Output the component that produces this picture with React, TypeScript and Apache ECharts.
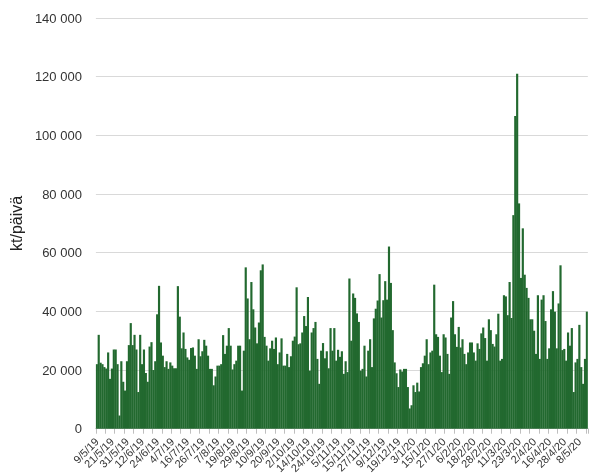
import React, { useEffect, useRef } from "react";
import * as echarts from "echarts";

// Daily volumes, kt/päivä (business days from 9/5/2019)
const volMayJun19 = [22000, 32000, 22500, 22000, 21000, 20500, 26000, 17000, 20500, 27000, 27000, 22000, 4500, 23000, 16000, 13000, 23000, 28500, 36000, 28500, 32000, 27000, 12500, 32000, 22000, 27000, 19000, 16000, 28000, 29500, 20000, 23000, 39000];
const volJulAug19 = [48700, 29400, 24900, 21000, 23000, 20400, 22600, 21500, 20600, 20600, 48600, 38200, 27400, 32800, 27200, 24300, 23500, 27500, 27700, 24900, 20400, 30500, 24700, 26400, 30300, 28300, 24900, 20400, 20400, 14800, 17800, 21500];
const volAugSep19 = [21500, 22000, 31900, 25500, 28300, 34300, 28300, 20200, 22000, 23200, 28300, 28300, 13000, 26600, 55000, 44400, 30500, 50000, 40700, 34500, 29100, 36200, 54000, 56000, 31300, 28300, 23200, 27400, 30000, 27200, 31100, 22000, 26000];
const volOctNov19 = [30800, 21500, 21500, 25500, 21000, 24700, 30000, 31400, 48200, 28800, 29100, 32800, 38400, 35000, 44900, 19800, 32800, 34300, 36400, 23800, 15300, 26600, 29200, 24000, 26400, 20600, 34300, 26600, 34300, 23200, 26900, 24500];
const volNovDec19 = [26400, 18700, 23000, 19300, 51200, 30000, 46100, 44600, 39300, 36400, 19800, 20400, 28300, 17800, 26600, 30500, 21000, 37600, 40900, 43700, 52700, 37900, 43800, 50300, 44000, 62100, 49700, 33600, 22600, 18900, 14200, 20200, 19500, 20400];
const volJanFeb20 = [20400, 14200, 6900, 8000, 14800, 12500, 15700, 12700, 21000, 22300, 24900, 30500, 22000, 26000, 26600, 49100, 32200, 31300, 24900, 19300, 32200, 31100, 25500, 18700, 37900, 43500, 32200, 27900, 34700, 27700, 30500, 25500, 22000];
const volFebMar20 = [26000, 29400, 29400, 26000, 23200, 29100, 27200, 32500, 34500, 30900, 23200, 37300, 33600, 28900, 28000, 32200, 39200, 23200, 23800, 45500, 45100, 38700, 50000, 37700, 72800, 106600, 121000, 76800, 51400, 68300, 52500, 48000];
const volAprMay20 = [44600, 37300, 37300, 33400, 25500, 45500, 23800, 44000, 45500, 36700, 23800, 27400, 40700, 46900, 39900, 27400, 42700, 55700, 26800, 27200, 23200, 32800, 28300, 34300, 12500, 22600, 23800, 35400, 21000, 15300, 23800, 39900];

const values = [
  ...volMayJun19, ...volJulAug19, ...volAugSep19, ...volOctNov19,
  ...volNovDec19, ...volJanFeb20, ...volFebMar20, ...volAprMay20,
];

const startDate = "2019-05-09";
const holidays = ["2019-12-25", "2019-12-26", "2020-01-01", "2020-04-10", "2020-04-13"];
const labelEvery = 8; // one date label per 8 business days
const tickEvery = 5; // one tick mark per 5 business days

function buildDates(n: number): string[] {
  const out: string[] = [];
  const d = new Date(startDate + "T12:00:00Z");
  while (out.length < n) {
    const wd = d.getUTCDay();
    const iso = d.toISOString().slice(0, 10);
    if (wd !== 0 && wd !== 6 && !holidays.includes(iso)) {
      out.push(`${d.getUTCDate()}/${d.getUTCMonth() + 1}/${String(d.getUTCFullYear()).slice(2)}`);
    }
    d.setUTCDate(d.getUTCDate() + 1);
  }
  return out;
}

const categories = buildDates(values.length);

const fmt = (v: number) => String(v).replace(/\B(?=(\d{3})+(?!\d))/g, " ");

export default function App() {
  const ref = useRef<HTMLDivElement>(null);
  useEffect(() => {
    if (!ref.current) return;
    const chart = echarts.init(ref.current, undefined, { renderer: "svg" });
    const font = "'Liberation Sans', Arial, sans-serif";
    const barColor = "#22692f";
    chart.setOption({
      animation: false,
      grid: { left: 86, right: 1, top: 18, bottom: 44, containLabel: false },
      xAxis: {
        type: "category",
        data: categories,
        boundaryGap: true,
        axisLine: { show: true, lineStyle: { color: "#bfbfbf", width: 1 } },
        axisTick: { show: true, interval: tickEvery - 1, length: 5, lineStyle: { color: "#bfbfbf" } },
        axisLabel: {
          interval: 0,
          rotate: 45,
          fontSize: 11,
          color: "#333333",
          fontFamily: font,
          margin: 11,
          formatter: (v: string, i: number) => (i % labelEvery === 0 ? v : ""),
        },
        splitLine: { show: false },
      },
      yAxis: {
        type: "value",
        min: 0,
        max: 140000,
        interval: 20000,
        name: "kt/päivä",
        nameLocation: "middle",
        nameRotate: 90,
        nameGap: 64,
        nameTextStyle: { fontSize: 16, color: "#222222", fontFamily: font },
        axisLine: { show: false },
        axisTick: { show: false },
        axisLabel: { fontSize: 13, color: "#333333", fontFamily: font, margin: 14, formatter: fmt },
        splitLine: { lineStyle: { color: "#d9d9d9", width: 1 } },
      },
      series: [
        {
          type: "bar",
          data: values,
          barCategoryGap: "-15%",
          itemStyle: { color: barColor },
        },
      ],
    });
    return () => chart.dispose();
  }, []);
  return (
    <div
      ref={ref}
      style={{ position: "fixed", left: 0, top: 0, width: 589, height: 476 }}
    />
  );
}
